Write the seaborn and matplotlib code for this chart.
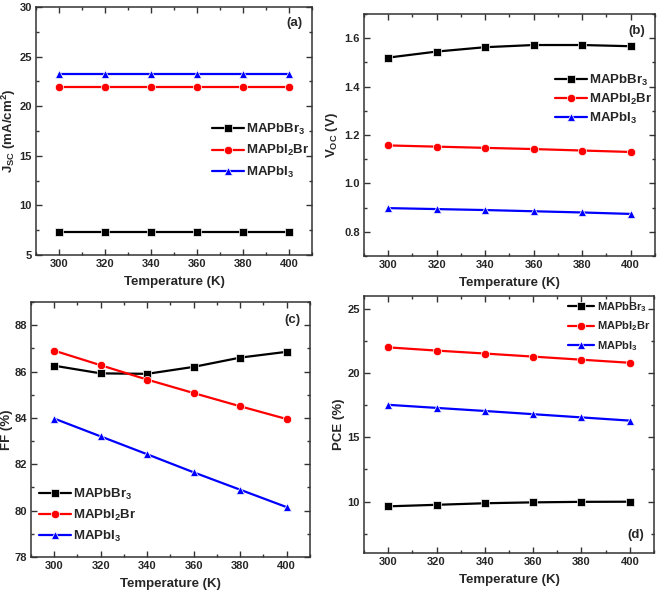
import pandas as pd
import numpy as np
import matplotlib
matplotlib.use('Agg')
import matplotlib.pyplot as plt
import seaborn as sns
from matplotlib.ticker import AutoMinorLocator

sns.set_style('ticks')
plt.rcParams['font.family'] = ['Liberation Sans', 'DejaVu Sans']
plt.rcParams['font.weight'] = 'bold'
plt.rcParams['axes.labelweight'] = 'bold'
plt.rcParams['mathtext.fontset'] = 'custom'
plt.rcParams['mathtext.rm'] = 'Liberation Sans:bold'
plt.rcParams['mathtext.bf'] = 'Liberation Sans:bold'
plt.rcParams['mathtext.it'] = 'Liberation Sans:bold'
plt.rcParams['mathtext.default'] = 'bf'

# Data
temperature = [300, 320, 340, 360, 380, 400]
materials = ['MAPbBr$_3$', 'MAPbI$_2$Br', 'MAPbI$_3$']

jsc_br3 = [7.35, 7.35, 7.35, 7.35, 7.35, 7.35]
jsc_i2br = [21.9, 21.9, 21.9, 21.9, 21.9, 21.9]
jsc_i3 = [23.25, 23.25, 23.25, 23.25, 23.25, 23.25]

voc_br3 = [1.520, 1.545, 1.563, 1.572, 1.572, 1.567]
voc_i2br = [1.157, 1.152, 1.147, 1.142, 1.136, 1.130]
voc_i3 = [0.898, 0.894, 0.890, 0.885, 0.880, 0.874]

ff_br3 = [86.25, 85.92, 85.90, 86.20, 86.60, 86.85]
ff_i2br = [86.90, 86.27, 85.65, 85.07, 84.50, 83.95]
ff_i3 = [83.97, 83.20, 82.43, 81.65, 80.90, 80.15]

pce_br3 = [9.63, 9.75, 9.87, 9.94, 9.98, 9.99]
pce_i2br = [22.00, 21.75, 21.52, 21.28, 21.04, 20.80]
pce_i3 = [17.53, 17.29, 17.05, 16.80, 16.55, 16.30]

colors = ['black', 'red', 'blue']
markers = ['s', 'o', '^']


def long_df(series):
    rows = []
    for name, vals in zip(materials, series):
        for t, v in zip(temperature, vals):
            rows.append({'T': t, 'val': v, 'Material': name})
    return pd.DataFrame(rows)


fig = plt.figure(figsize=(6.61, 5.95), dpi=100)
ax_a = fig.add_axes([0.0545, 0.5714, 0.4175, 0.4168])
ax_b = fig.add_axes([0.5507, 0.5697, 0.4400, 0.4067])
ax_c = fig.add_axes([0.0469, 0.0639, 0.4220, 0.4286])
ax_d = fig.add_axes([0.5507, 0.0706, 0.4387, 0.4320])

panels = [
    (ax_a, [jsc_br3, jsc_i2br, jsc_i3], 'J$_{SC}$ (mA/cm$^{2}$)', (5, 30), [5, 10, 15, 20, 25, 30], -0.064),
    (ax_b, [voc_br3, voc_i2br, voc_i3], 'V$_{OC}$ (V)', (0.7, 1.7), [0.8, 1.0, 1.2, 1.4, 1.6], -0.082),
    (ax_c, [ff_br3, ff_i2br, ff_i3], 'FF (%)', (78, 89), [78, 80, 82, 84, 86, 88], -0.066),
    (ax_d, [pce_br3, pce_i2br, pce_i3], 'PCE (%)', (6, 26), [10, 15, 20, 25], -0.066),
]

for ax, series, ylab, ylim, yticks, ylab_x in panels:
    df = long_df(series)
    sns.lineplot(data=df, x='T', y='val', hue='Material', style='Material',
                 palette=colors, markers=markers, dashes=False, markersize=6,
                 linewidth=1.6, markeredgewidth=0.5, ax=ax)
    ax.set_xlim(290, 410)
    ax.set_ylim(*ylim)
    ax.set_xticks(temperature)
    ax.set_yticks(yticks)
    if ylab.startswith('V'):
        ax.set_yticklabels([f'{v:.1f}' for v in yticks])
    ax.xaxis.set_minor_locator(AutoMinorLocator(2))
    ax.yaxis.set_minor_locator(AutoMinorLocator(2))
    ax.tick_params(which='both', direction='in', top=True, right=True,
                   labelsize=8, width=1, color='#333333', pad=3)
    ax.tick_params(which='major', length=4)
    ax.tick_params(which='minor', length=2.5)
    for lbl in ax.get_xticklabels() + ax.get_yticklabels():
        lbl.set_fontweight('bold')
    for sp in ax.spines.values():
        sp.set_linewidth(1.1)
        sp.set_color('#333333')
    ax.set_xlabel('Temperature (K)', fontsize=9.5, fontweight='bold', labelpad=5)
    ax.set_ylabel(ylab, fontsize=9.5, fontweight='bold')
    ax.yaxis.set_label_coords(ylab_x, 0.5)

ax_a.text(0.965, 0.935, '(a)', transform=ax_a.transAxes, ha='right', va='center', fontsize=9.5, fontweight='bold')
ax_b.text(0.965, 0.93, '(b)', transform=ax_b.transAxes, ha='right', va='center', fontsize=9.5, fontweight='bold')
ax_c.text(0.965, 0.93, '(c)', transform=ax_c.transAxes, ha='right', va='center', fontsize=9.5, fontweight='bold')
ax_d.text(0.965, 0.07, '(d)', transform=ax_d.transAxes, ha='right', va='center', fontsize=9.5, fontweight='bold')

leg_kw = dict(frameon=False, handlelength=2.4, handletextpad=0.2, borderaxespad=0.2)
ax_a.legend(loc='center right', bbox_to_anchor=(1.02, 0.42), fontsize=9.5, labelspacing=0.5, **leg_kw)
ax_b.legend(loc='upper right', bbox_to_anchor=(1.02, 0.79), fontsize=9.5, labelspacing=0.3, **leg_kw)
ax_c.legend(loc='lower left', bbox_to_anchor=(0.0, 0.02), fontsize=9.5, labelspacing=0.45, **leg_kw)
ax_d.legend(loc='upper right', bbox_to_anchor=(1.01, 1.01), fontsize=8, labelspacing=0.5, **leg_kw)

fig.savefig('out.png', dpi=100)
